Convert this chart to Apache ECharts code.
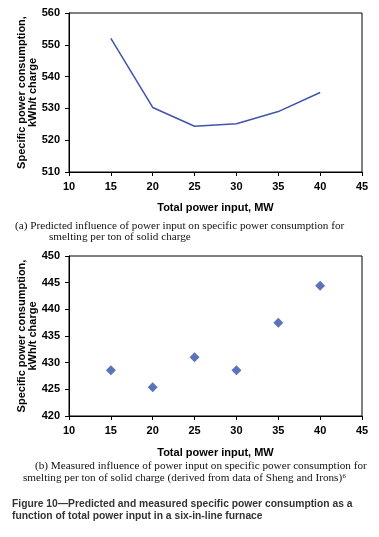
<!DOCTYPE html>
<html>
<head>
<meta charset="utf-8">
<script src="https://cdn.jsdelivr.net/npm/echarts@6/dist/echarts.min.js"></script>
<style>
  html, body { margin: 0; padding: 0; background: #fff; }
  #chart { width: 379px; height: 537px; }
</style>
</head>
<body>
<div id="chart"></div>
<script>
// 功率 (MW)
var powerInput = [15, 20, 25, 30, 35, 40];
// (a) predicted, kWh/t
var predicted = [552, 530.3, 524.4, 525.2, 529, 535];
// (b) measured, kWh/t
var measured = [428.6, 425.4, 431, 428.6, 437.5, 444.4];

var xTicks = [10, 15, 20, 25, 30, 35, 40, 45];
var yTicksA = [510, 520, 530, 540, 550, 560];
var yTicksB = [420, 425, 430, 435, 440, 445, 450];

var axisFont = { fontFamily: "Liberation Sans", fontWeight: "bold", fontSize: 11, color: "#000" };
var serif = "Liberation Serif";

function xAxisCfg(idx, gap) {
  return {
    type: "value",
    gridIndex: idx,
    min: xTicks[0],
    max: xTicks[xTicks.length - 1],
    interval: 5,
    name: "Total power input, MW",
    nameLocation: "middle",
    nameGap: gap,
    nameTextStyle: Object.assign({}, axisFont),
    axisLine: { lineStyle: { color: "#000", width: 1 } },
    axisTick: { show: true, length: 4, lineStyle: { color: "#000" } },
    axisLabel: Object.assign({ margin: 9 }, axisFont),
    splitLine: { show: false }
  };
}

function yAxisCfg(idx, ticks, step) {
  return {
    type: "value",
    gridIndex: idx,
    min: ticks[0],
    max: ticks[ticks.length - 1],
    interval: step,
    name: "Specific power consumption,\nkWh/t charge",
    nameLocation: "middle",
    nameRotate: 90,
    nameGap: 31,
    nameMoveOverlap: false,
    nameTextStyle: Object.assign({}, axisFont, { lineHeight: 11 }),
    axisLine: { show: true, lineStyle: { color: "#000", width: 1 } },
    axisTick: { show: true, length: 4, lineStyle: { color: "#000" } },
    axisLabel: Object.assign({ margin: 9 }, axisFont),
    splitLine: { show: false }
  };
}

var myChart = echarts.init(document.getElementById("chart"));
var option = {
  animation: false,
  backgroundColor: "#fff",
  grid: [
    { left: 69, top: 13, width: 293, height: 159, show: true, borderColor: "#000", borderWidth: 1 },
    { left: 69, top: 256, width: 293, height: 160, show: true, borderColor: "#000", borderWidth: 1 }
  ],
  xAxis: [xAxisCfg(0, 30), xAxisCfg(1, 31)],
  yAxis: [yAxisCfg(0, yTicksA, 10), yAxisCfg(1, yTicksB, 5)],
  series: [
    {
      type: "line",
      xAxisIndex: 0,
      yAxisIndex: 0,
      showSymbol: false,
      lineStyle: { color: "#4054AA", width: 1.5 },
      data: powerInput.map(function (x, i) { return [x, predicted[i]]; })
    },
    {
      type: "scatter",
      xAxisIndex: 1,
      yAxisIndex: 1,
      symbol: "diamond",
      symbolSize: 10,
      itemStyle: { color: "#3350A8" },
      data: powerInput.map(function (x, i) { return [x, measured[i]]; })
    }
  ],
  graphic: [
    { type: "text", left: 15, top: 221, style: { text: "(a) Predicted influence of power input on specific power consumption for", font: "11.2px " + serif, fill: "#111" } },
    { type: "text", left: 49, top: 232, style: { text: "smelting per ton of solid charge", font: "11.2px " + serif, fill: "#111" } },
    { type: "text", left: 35, top: 461, style: { text: "(b) Measured influence of power input on specific power consumption for", font: "11.2px " + serif, fill: "#111" } },
    { type: "text", left: 23, top: 473, style: { text: "smelting per ton of solid charge (derived from data of Sheng and Irons)\u2076", font: "11.2px " + serif, fill: "#111" } },
    { type: "text", left: 12, top: 499, style: { text: "Figure 10\u2014Predicted and measured specific power consumption as a", font: "bold 10.3px Liberation Sans", fill: "#333" } },
    { type: "text", left: 12, top: 511, style: { text: "function of total power input in a six-in-line furnace", font: "bold 10.3px Liberation Sans", fill: "#333" } }
  ]
};
myChart.setOption(option);
</script>
</body>
</html>
